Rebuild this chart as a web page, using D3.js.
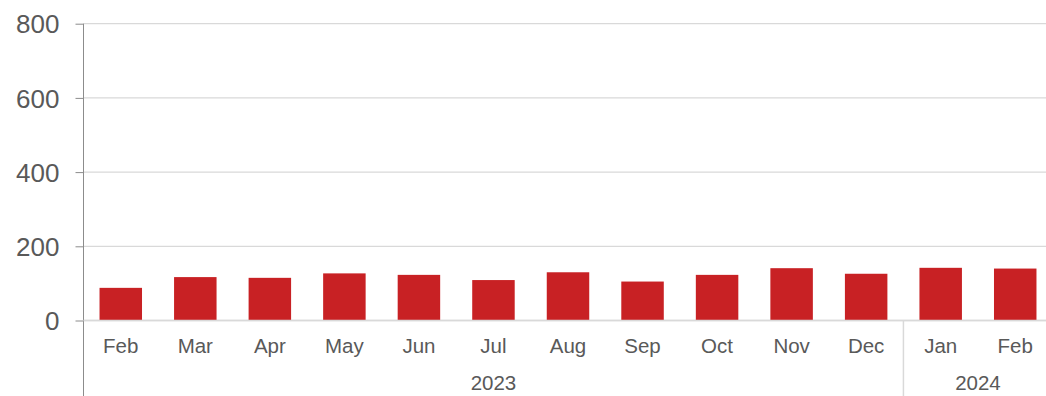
<!DOCTYPE html>
<html><head><meta charset="utf-8">
<script src="https://cdn.jsdelivr.net/npm/d3@7"></script>
<style>html,body{margin:0;padding:0;background:#fff;overflow:hidden}svg{display:block}</style>
</head><body>
<svg id="c" width="1046" height="396"></svg>
<script>
const months = ["Feb","Mar","Apr","May","Jun","Jul","Aug","Sep","Oct","Nov","Dec","Jan","Feb"];
const years = ["2023","2023","2023","2023","2023","2023","2023","2023","2023","2023","2023","2024","2024"];
const values = [88,117,115,127,123,109,130,105,123,141,126,142,140];
const yTicks = [0,200,400,600,800];

const svg = d3.select("#c");
const mLeft = 83.5, mRight = 1052.5, mTop = 23.7, mBottom = 320.5;
const keys = months.map((m,i)=>i);
const x = d3.scaleBand().domain(keys).range([mLeft,mRight]).paddingInner(0.43).paddingOuter(0.215);
const xb = d3.scaleBand().domain(keys).range([mLeft,mRight]).padding(0);
const y = d3.scaleLinear().domain([0,800]).range([mBottom,mTop]);

// gridlines
svg.append("g").selectAll("line").data(yTicks).join("line")
  .attr("x1",mLeft).attr("x2",1046).attr("y1",d=>y(d)).attr("y2",d=>y(d))
  .attr("stroke","#d9d9d9").attr("stroke-width",1.3);

// y axis
const ya = d3.axisLeft(y).tickValues(yTicks).tickSize(8).tickPadding(16);
const gy = svg.append("g").attr("transform",`translate(${mLeft},0)`).call(ya);
gy.select(".domain").remove();
gy.selectAll(".tick line").attr("stroke","#8c8c8c");
gy.selectAll("text").attr("fill","#595959").attr("font-family","Liberation Sans, Arial, sans-serif").attr("font-size",26).attr("dy","0.35em");
svg.append("line").attr("x1",mLeft).attr("x2",mLeft).attr("y1",mTop).attr("y2",396).attr("stroke","#8c8c8c").attr("stroke-width",1);

// bars
svg.append("g").selectAll("rect").data(values).join("rect")
  .attr("x",(d,i)=>x(i)).attr("width",x.bandwidth())
  .attr("y",d=>y(d)).attr("height",d=>y(0)-y(d))
  .attr("fill","#c82124");

// baseline
svg.append("line").attr("x1",mLeft).attr("x2",1046).attr("y1",mBottom).attr("y2",mBottom).attr("stroke","#d9d9d9").attr("stroke-width",1.5);

// month labels
svg.append("g").selectAll("text").data(months).join("text")
  .attr("x",(d,i)=>xb(i)+xb.bandwidth()/2).attr("y",353)
  .attr("text-anchor","middle").attr("fill","#595959")
  .attr("font-family","Liberation Sans, Arial, sans-serif").attr("font-size",20.5)
  .text(d=>d);

// year groups
const groups = d3.groups(keys, i=>years[i]);
groups.forEach(([yr, idx], gi)=>{
  const x0 = xb(idx[0]), x1 = xb(idx[idx.length-1]) + xb.bandwidth();
  svg.append("text").attr("x",(x0+x1)/2).attr("y",390).attr("text-anchor","middle")
    .attr("fill","#595959").attr("font-family","Liberation Sans, Arial, sans-serif").attr("font-size",20.5).text(yr);
  if (gi>0) svg.append("line").attr("x1",x0).attr("x2",x0).attr("y1",mBottom).attr("y2",396)
    .attr("stroke","#d9d9d9").attr("stroke-width",1.5);
});
</script>
</body></html>
